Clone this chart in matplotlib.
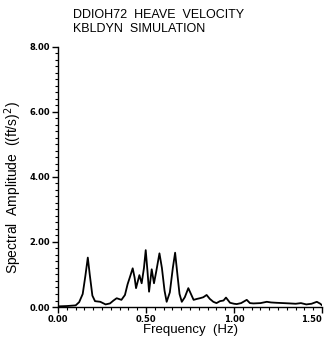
import matplotlib
matplotlib.use("Agg")
import matplotlib.pyplot as plt
from matplotlib.ticker import MultipleLocator

title_lines = ["DDIOH72  HEAVE  VELOCITY", "KBLDYN  SIMULATION"]
x_ticks = [0.0, 0.5, 1.0, 1.5]
x_tick_labels = ["0.00", "0.50", "1.00", "1.50"]
y_ticks = [0, 2, 4, 6, 8]
y_tick_labels = ["0.00", "2.00", "4.00", "6.00", "8.00"]

freq = [0.00, 0.05, 0.10, 0.12, 0.14, 0.155, 0.169, 0.18, 0.195, 0.21, 0.24, 0.27, 0.295,
        0.315, 0.333, 0.36, 0.38, 0.395, 0.41, 0.424, 0.435, 0.443, 0.462, 0.475, 0.488,
        0.498, 0.508, 0.517, 0.532, 0.545, 0.558, 0.576, 0.59, 0.605, 0.617, 0.635, 0.652,
        0.665, 0.678, 0.69, 0.703, 0.72, 0.74, 0.755, 0.77, 0.79, 0.806, 0.825, 0.844,
        0.862, 0.882, 0.90, 0.92, 0.94, 0.954, 0.977, 1.0, 1.015, 1.04, 1.072, 1.09, 1.11,
        1.15, 1.186, 1.21, 1.24, 1.28, 1.318, 1.35, 1.38, 1.41, 1.44, 1.47, 1.49, 1.50]
amp = [0.02, 0.03, 0.05, 0.15, 0.4, 0.95, 1.52, 1.0, 0.35, 0.18, 0.16, 0.08, 0.11,
       0.2, 0.27, 0.22, 0.37, 0.7, 0.95, 1.19, 0.9, 0.58, 0.98, 0.73, 1.2,
       1.75, 1.1, 0.47, 1.16, 0.73, 1.1, 1.65, 1.2, 0.5, 0.16, 0.45, 1.2,
       1.67, 1.0, 0.4, 0.16, 0.3, 0.58, 0.4, 0.22, 0.25, 0.27, 0.3, 0.37,
       0.25, 0.16, 0.12, 0.18, 0.2, 0.29, 0.13, 0.1, 0.09, 0.12, 0.22, 0.12, 0.11,
       0.12, 0.16, 0.14, 0.13, 0.12, 0.11, 0.1, 0.12, 0.08, 0.1, 0.16, 0.1, 0.05]

fig = plt.figure(figsize=(3.28, 3.37), dpi=100)
ax = fig.add_axes([0.177, 0.089, 0.805, 0.772])
ax.plot(freq, amp, color="black", lw=1.3)
ax.set_xlim(0, 1.5)
ax.set_ylim(0, 8)
ax.set_xticks(x_ticks)
ax.set_xticklabels(x_tick_labels)
ax.set_yticks(y_ticks)
ax.set_yticklabels(y_tick_labels)
ax.xaxis.set_minor_locator(MultipleLocator(0.05))
ax.yaxis.set_minor_locator(MultipleLocator(0.2))
for s in ["top", "right"]:
    ax.spines[s].set_visible(False)
for s in ["left", "bottom"]:
    ax.spines[s].set_linewidth(1.0)
ax.tick_params(which="major", direction="out", length=4, width=1, labelsize=6, pad=2)
ax.tick_params(which="minor", direction="out", length=2, width=0.8)
for lab in ax.get_xticklabels() + ax.get_yticklabels():
    lab.set_fontweight("bold")
ax.get_xticklabels()[-1].set_horizontalalignment("right")
ax.set_xlabel("Frequency  (Hz)", fontsize=9.5, labelpad=0, family="Liberation Sans")
ax.set_ylabel("Spectral  Amplitude  ((ft/s)$^2$)", fontsize=10, family="Liberation Sans")
ax.yaxis.set_label_coords(-0.13, 0.46)
fig.text(0.222, 0.955, title_lines[0], fontsize=9, ha="left", va="center", family="Liberation Sans")
fig.text(0.222, 0.913, title_lines[1], fontsize=9, ha="left", va="center", family="Liberation Sans")
fig.savefig("out.png", dpi=100)
